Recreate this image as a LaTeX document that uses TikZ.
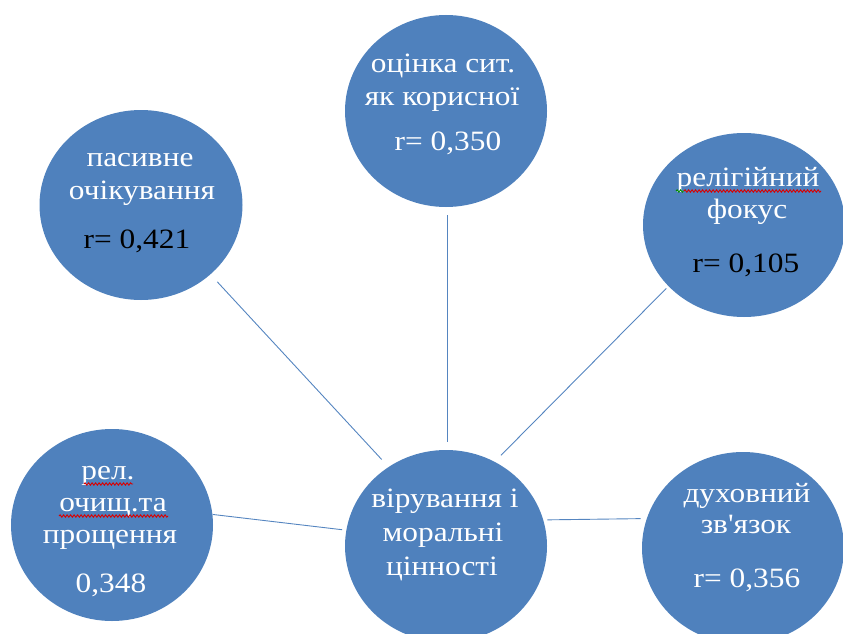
\documentclass[tikz,border=0pt]{standalone}
\usepackage{fontspec}
\newfontfamily\bubblefont{Liberation Serif}[FakeStretch=1.12]
\usetikzlibrary{shapes.geometric,decorations.pathmorphing}
\definecolor{bubblefill}{HTML}{4F81BD}
\definecolor{linkc}{HTML}{5585C0}
\begin{document}
\begin{tikzpicture}[x=1pt,y=-1pt,
  bubble/.style={ellipse, fill=bubblefill, draw=none, inner sep=0pt, minimum width=202pt, minimum height=192pt},
  txt/.style={anchor=base, text=white, inner sep=0pt, font=\bubblefont\fontsize{28}{32}\selectfont},
  txtdark/.style={txt, text=black},
  link/.style={draw=linkc, line width=0.9pt},
  spell/.style={draw=red!85!black, line width=0.9pt, decorate, decoration={snake, amplitude=1.2pt, segment length=3.5pt}}
]
\useasboundingbox (0,0) rectangle (843,634);
\clip (0,0) rectangle (843,634);

% bubbles
\node[bubble] (top) at (446,111) {};
\node[bubble, minimum width=203pt, minimum height=190pt] (pas) at (141,205) {};
\node[bubble, minimum height=184pt] (rel) at (744,225) {};
\node[bubble] (och) at (112,525) {};
\node[bubble] (cen) at (446,546) {};
\node[bubble] (duh) at (743,548) {};

% connectors
\draw[link, shorten <=10pt, shorten >=10pt] (pas.-45) -- (cen.126);
\draw[link, shorten <=8pt, shorten >=8pt] (top.-89) -- (cen.89);
\draw[link, shorten <=3pt, shorten >=9pt] (rel.-141) -- (cen.60);
\draw[link, shorten >=4pt] (och.6) -- (cen.171);
\draw[link, shorten <=4pt, shorten >=6pt] (cen.15) -- (duh.163);

% texts
\node[txt] (t1a) at (443,73) {оцінка сит.};
\node[txt] (t1b) at (442,105) {як корисної};
\node[txt] (t1c) at (448,150) {r= 0,350};

\node[txt] (t2a) at (140,166) {пасивне};
\node[txt] (t2b) at (142,199) {очікування};
\node[txtdark] (t2c) at (137,248) {r= 0,421};

\node[txt] (t3a) at (748,186) {релігійний};
\node[txt] (t3b) at (747,218) {фокус};
\node[txtdark] (t3c) at (746,272) {r= 0,105};

\node[txt] (t4a) at (108,479) {рел.};
\node[txt] (t4b) at (113,511) {очищ.та};
\node[txt] (t4c) at (110,543) {прощення};
\node[txt] (t4d) at (111,592) {0,348};

\node[txt] (t5a) at (445,507) {вірування і};
\node[txt] (t5b) at (443,541) {моральні};
\node[txt] (t5c) at (442,575) {цінності};

\node[txt] (t6a) at (747,502) {духовний};
\node[txt] (t6b) at (746,533) {зв'язок};
\node[txt] (t6c) at (747,587) {r= 0,356};

% spell-check underlines
\draw[spell, draw=green!55!black] (676,191) -- (684,191);
\draw[spell] (684,191) -- (821,191);
\draw[spell] (84,484) -- (133,484);
\draw[spell] (59,516) -- (168,516);
\end{tikzpicture}
\end{document}
